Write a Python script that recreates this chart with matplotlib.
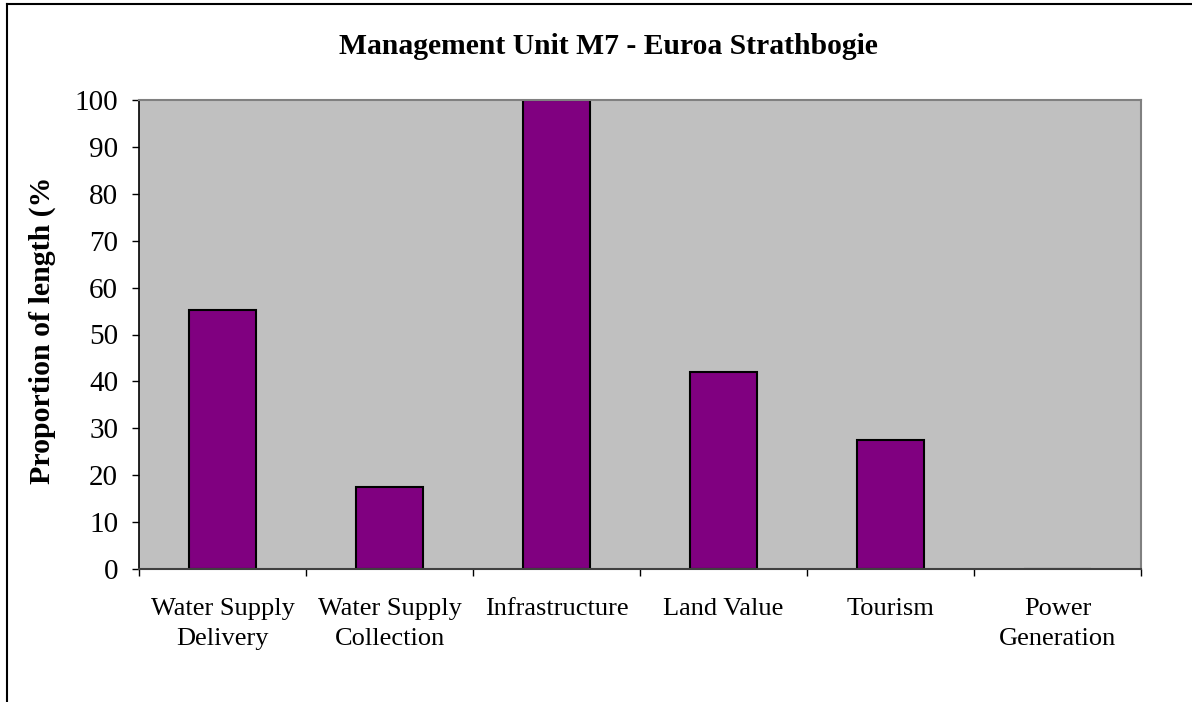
import numpy as np
import matplotlib
matplotlib.use("Agg")
import matplotlib.pyplot as plt
from matplotlib.lines import Line2D

categories = ["Water Supply\nDelivery", "Water Supply\nCollection", "Infrastructure",
              "Land Value", "Tourism", "Power\nGeneration"]
values = [55.3, 17.4, 100.0, 41.9, 27.6, 0.0]
yticks = [0, 10, 20, 30, 40, 50, 60, 70, 80, 90, 100]

plt.rcParams['font.family'] = ['Liberation Serif', 'DejaVu Serif']

fig = plt.figure(figsize=(11.92, 7.02), dpi=100)
ax = fig.add_axes([139/1192, 1-569/702, (1141-139)/1192, (569-100)/702])
ax.set_facecolor('#C0C0C0')

x = np.arange(len(categories))
ax.bar(x, values, width=0.4, color='#800080', edgecolor='black', linewidth=1.5, zorder=2)

ax.set_xlim(-0.5, len(categories) - 0.5)
ax.set_ylim(0, 100)
ax.set_yticks(yticks)
ax.tick_params(axis='y', direction='out', length=5, width=1, labelsize=21, pad=10, colors='black')

ax.set_xticks(x)
ax.set_xticklabels(categories, fontsize=19, linespacing=1.45)
ax.tick_params(axis='x', which='major', length=0, pad=21)
ax.set_xticks(np.arange(-0.5, len(categories)), minor=True)
ax.tick_params(axis='x', which='minor', direction='out', length=5, width=1, color='black')

for side in ['top', 'right']:
    ax.spines[side].set_color('#808080')
    ax.spines[side].set_linewidth(1.5)
ax.spines['left'].set_color('black')
ax.spines['bottom'].set_color('#404040')
ax.spines['left'].set_linewidth(1.2)
ax.spines['bottom'].set_linewidth(1.5)

fig.text(608/1192, 1-46/702, "Management Unit M7 - Euroa Strathbogie",
         ha='center', va='center', fontsize=21.3, fontweight='bold')
fig.text(42/1192, 1-330/702, "Proportion of length (%", rotation=90,
         ha='center', va='center', fontsize=21.5, fontweight='bold')

# outer chart frame (only top and left edges visible)
fig.add_artist(Line2D([7/1192, 7/1192], [0, 1-4/702], color='black', linewidth=1.5))
fig.add_artist(Line2D([7/1192, 1], [1-4/702, 1-4/702], color='black', linewidth=1.5))

fig.savefig("out.png", dpi=100)
